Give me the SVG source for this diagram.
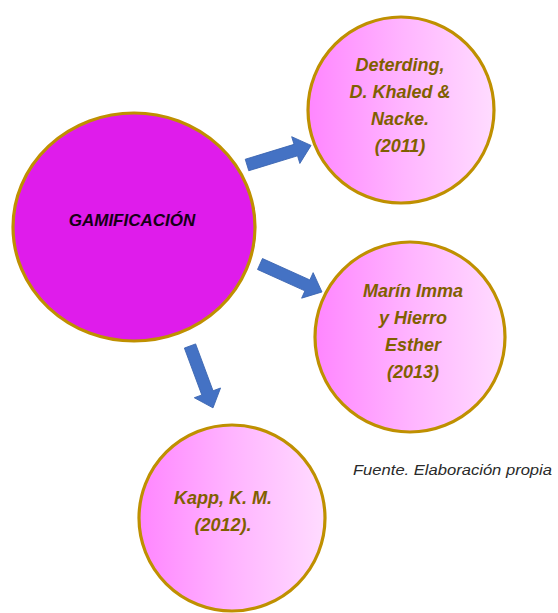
<svg xmlns="http://www.w3.org/2000/svg" width="558" height="613" viewBox="0 0 558 613">
  <defs>
    <linearGradient id="pinkFill" x1="0" y1="0" x2="1" y2="0">
      <stop offset="0" stop-color="#ff86ff"/>
      <stop offset="0.5" stop-color="#ffb4ff"/>
      <stop offset="1" stop-color="#ffdcff"/>
    </linearGradient>
    <style>
      .ring { stroke: #bf9000; stroke-width: 3.2; }
      .author { fill: url(#pinkFill); }
      .main { fill: #df1ceb; }
      .label { font-family: "Liberation Sans", Arial, sans-serif; font-weight: bold; font-style: italic; font-size: 18px; fill: #7f6000; text-anchor: middle; }
      .title { font-family: "Liberation Sans", Arial, sans-serif; font-weight: bold; font-style: italic; font-size: 17px; fill: #160016; text-anchor: middle; }
      .arrow { fill: #4472c4; stroke: #3a64b0; stroke-width: 0.8; }
      .note { font-family: "Liberation Sans", Arial, sans-serif; font-style: italic; font-size: 14.5px; fill: #2a2a2a; }
    </style>
  </defs>

  <rect width="558" height="613" fill="#ffffff"/>

  <!-- block arrows from the central topic to each author -->
  <g id="connectors">
    <polygon class="arrow" transform="translate(247,165) rotate(-17)" points="0,-6 51,-6 51,-14 67,0 51,14 51,6 0,6"/>
    <polygon class="arrow" transform="translate(260,264) rotate(24.3)" points="0,-6 52,-6 52,-14 68,0 52,14 52,6 0,6"/>
    <polygon class="arrow" transform="translate(190,346) rotate(69.6)" points="0,-6 50,-6 50,-14 66,0 50,14 50,6 0,6"/>
  </g>

  <g id="gamificacion">
    <ellipse class="main ring" cx="134" cy="227" rx="121" ry="114"/>
    <text class="title" x="132" y="226">GAMIFICACIÓN</text>
  </g>

  <g id="deterding">
    <circle class="author ring" cx="401" cy="110" r="93"/>
    <text class="label" x="400" y="71">Deterding,</text>
    <text class="label" x="400" y="98">D. Khaled &amp;</text>
    <text class="label" x="400" y="125">Nacke.</text>
    <text class="label" x="400" y="152">(2011)</text>
  </g>

  <g id="marin">
    <circle class="author ring" cx="410" cy="337" r="95"/>
    <text class="label" x="413" y="297">Marín Imma</text>
    <text class="label" x="413" y="324">y Hierro</text>
    <text class="label" x="413" y="351">Esther</text>
    <text class="label" x="413" y="378">(2013)</text>
  </g>

  <g id="kapp">
    <circle class="author ring" cx="232" cy="518" r="93"/>
    <text class="label" x="223" y="504">Kapp, K. M.</text>
    <text class="label" x="223" y="531">(2012).</text>
  </g>

  <text class="note" x="353" y="475" textLength="199" lengthAdjust="spacingAndGlyphs">Fuente. Elaboración propia</text>
</svg>
